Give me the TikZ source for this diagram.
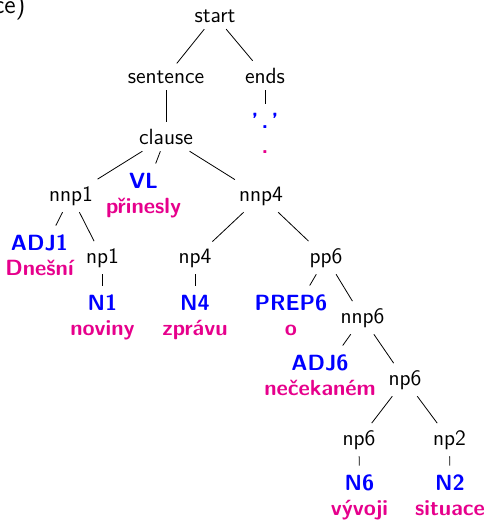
\documentclass[tikz,border=0pt]{standalone}
\usepackage{xcolor}
\definecolor{cblue}{RGB}{0,0,255}
\definecolor{cpink}{RGB}{230,0,140}
\newcommand\leafpair[2]{\begin{tabular}[t]{@{}c@{}}\textcolor{cblue}{#1}\\\textcolor{cpink}{#2}\end{tabular}}
\tikzset{
  lbl/.style={font=\fontsize{11}{12.5}\selectfont\sffamily, anchor=base, inner sep=3.3pt},
  leafnode/.style={font=\fontsize{11}{12.5}\selectfont\sffamily\bfseries, anchor=base, inner sep=3.3pt},
  edge/.style={draw=black, line width=0.4pt},
}
\begin{document}
\begin{tikzpicture}[x=0.5pt,y=-0.5pt]
\useasboundingbox (0,0) rectangle (485,521);
\node[font=\fontsize{13}{15}\selectfont\sffamily, anchor=base east, inner sep=0pt] (title) at (26,13) {ce)};
% inner nodes
\node[lbl] (start) at (215,22) {start};
\node[lbl] (sentence) at (166,83) {sentence};
\node[lbl] (ends) at (265,83) {ends};
\node[lbl] (clause) at (166,144) {clause};
\node[lbl] (nnp1) at (71,201) {nnp1};
\node[lbl] (nnp4) at (261,201) {nnp4};
\node[lbl] (np1) at (102.5,263) {np1};
\node[lbl] (np4) at (195,263) {np4};
\node[lbl] (pp6) at (326,263) {pp6};
\node[lbl] (nnp6) at (362.5,323) {nnp6};
\node[lbl] (np6a) at (405,385) {np6};
\node[lbl] (np6b) at (359,445) {np6};
\node[lbl] (np2) at (449.5,445) {np2};
% leaves
\node[leafnode] (dot) at (265,128) {\leafpair{'\kern1.6pt.\kern1.6pt'}{.}};
\node[leafnode] (VL) at (143.5,188) {\leafpair{VL}{přinesly}};
\node[leafnode] (ADJ1) at (39.5,250) {\leafpair{ADJ1}{Dnešní}};
\node[leafnode] (N1) at (102.5,310) {\leafpair{N1}{noviny}};
\node[leafnode] (N4) at (195,310) {\leafpair{N4}{zprávu}};
\node[leafnode] (PREP6) at (291,310) {\leafpair{PREP6}{o}};
\node[leafnode] (ADJ6) at (320,370) {\leafpair{ADJ6}{nečekaném}};
\node[leafnode] (N6) at (359.5,490) {\leafpair{N6}{vývoji}};
\node[leafnode] (N2) at (450,490) {\leafpair{N2}{situace}};
% edges
\draw[edge] (start) -- (sentence);
\draw[edge] (start) -- (ends);
\draw[edge] (sentence) -- (clause);
\draw[edge] (ends) -- (dot);
\draw[edge] (clause) -- (nnp1);
\draw[edge] (clause) -- (VL);
\draw[edge] (clause) -- (nnp4);
\draw[edge] (nnp1) -- (ADJ1);
\draw[edge] (nnp1) -- (np1);
\draw[edge] (np1) -- (N1);
\draw[edge] (nnp4) -- (np4);
\draw[edge] (nnp4) -- (pp6);
\draw[edge] (np4) -- (N4);
\draw[edge] (pp6) -- (PREP6);
\draw[edge] (pp6) -- (nnp6);
\draw[edge] (nnp6) -- (ADJ6);
\draw[edge] (nnp6) -- (np6a);
\draw[edge] (np6a) -- (np6b);
\draw[edge] (np6a) -- (np2);
\draw[edge] (np6b) -- (N6);
\draw[edge] (np2) -- (N2);
\end{tikzpicture}
\end{document}
